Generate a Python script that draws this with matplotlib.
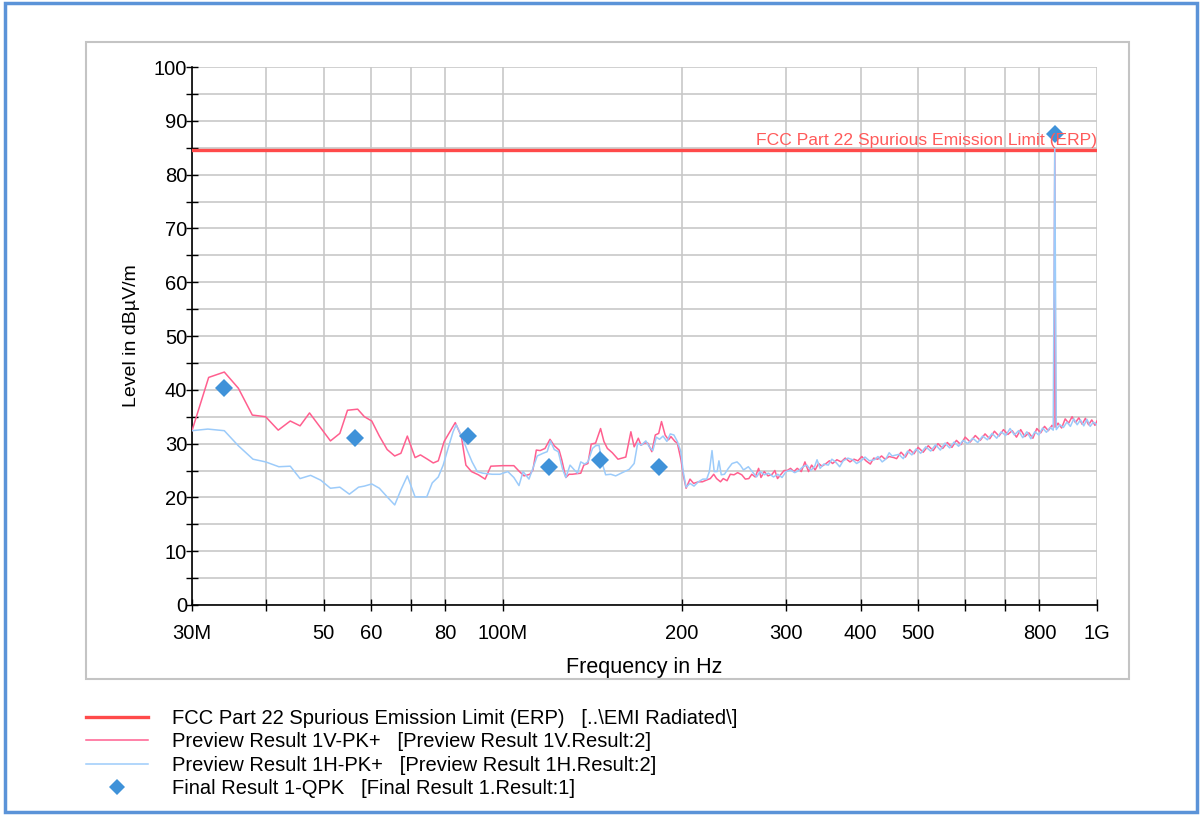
import matplotlib
matplotlib.use("Agg")
import matplotlib.pyplot as plt
from matplotlib.patches import Rectangle
from matplotlib.ticker import FixedLocator, FixedFormatter, NullFormatter

plt.rcParams['font.family'] = ['Liberation Sans', 'DejaVu Sans']

# limit line (dBuV/m)
limit_level = 84.5
limit_name = "FCC Part 22 Spurious Emission Limit (ERP)"

# Preview Result 1V-PK+ : frequency in MHz, level in dBuV/m
v_freq = [30, 32.0, 34.0, 35.9, 37.9, 39.9, 41.9, 43.9, 45.6, 47.3, 51.3, 53.2, 54.8, 57.0, 58.5,
          60.2, 62.0, 63.9, 65.8, 67.4, 69.1, 71.2, 72.7, 74.7, 76.4, 77.9, 79.7, 83.2, 85.2, 86.7,
          88.6, 91.0, 93.4, 95.5, 100, 104.4, 106.7, 108.6, 111.1, 112.4, 113.9, 115.6, 117.8, 120.1,
          122.1, 124.4, 125.7, 127.7, 129.3, 130.9, 135.3, 136.9, 139.1, 140.9, 143.3, 146.1, 148.0,
          150.0, 152.9, 156.3, 161.1, 164.3, 166.4, 169.1, 170.9, 173.1, 175.4, 178.2, 180.6, 183.0,
          185.0, 187.6, 190.1, 191.9, 194.9, 196.7, 199.5, 201.5, 203.5, 206.6, 209.5, 213.5, 216.8,
          220, 223.5, 226.5, 229, 232.5, 235, 238.5, 241.5, 245, 248.5, 252.5, 256, 259.5, 262.5, 266,
          269.5, 272, 275.5, 279.5, 284, 287, 290, 293.5, 297.5, 301, 305, 309, 313, 318, 322.5, 327,
          331, 335.5, 340, 344.5, 350, 354.5, 359, 365, 371, 377, 384, 390, 396, 402, 408.5, 415.5,
          421, 427.5, 434, 440, 447, 455, 460, 468, 476, 484, 492, 500, 510, 520, 530, 540, 550, 560,
          570, 580, 590, 600, 612, 624, 636, 648, 660, 672, 684, 696, 708, 720, 732, 744, 756, 768,
          780, 792, 804, 816, 828, 840, 846, 849, 852, 860, 872, 884, 896, 908, 920, 932, 944, 956,
          968, 980, 992, 1000]
v_level = [32.4, 42.3, 43.3, 40.3, 35.3, 35.0, 32.5, 34.2, 33.3, 35.7, 30.5, 31.9, 36.2, 36.4, 35.0,
           34.2, 31.4, 28.9, 27.7, 28.2, 31.4, 27.4, 27.9, 27.1, 26.4, 26.8, 30.4, 33.9, 31.3, 26.0,
           24.8, 24.2, 23.4, 25.8, 25.9, 25.9, 24.8, 24.0, 24.3, 25.1, 28.8, 28.7, 29.1, 30.8,
           29.6, 28.8, 27.0, 23.7, 24.3, 24.3, 24.5, 26.0, 26.3, 29.9, 30.1, 32.8, 30.4,
           29.1, 28.3, 27.1, 27.5, 32.2, 29.4, 31.0, 29.7, 30.1, 30.1, 28.5, 31.6, 31.9,
           34.1, 31.6, 30.7, 31.3, 30.4, 30.1, 27.0, 23.9, 21.7, 23.4, 22.6, 22.9, 22.9,
           23.2, 23.5, 24.3, 23.5, 22.9, 23.5, 23.1, 24.3, 24.2, 24.6, 24.2, 23.4, 23.5, 24.3, 23.8,
           25.4, 23.7, 24.8, 24.0, 24.3, 25.0, 23.5, 24.2, 25.0, 25.0, 25.4, 24.8, 25.4, 24.8, 26.6, 24.8,
           26.0, 25.1, 26.3, 25.8, 26.3, 26.8, 26.3, 27.0, 26.6, 27.3, 26.6, 27.1, 26.8, 27.6, 26.8, 26.2,
           27.3, 27.1, 27.7, 27.1, 27.6, 27.4, 27.2, 28.4, 27.5, 28.9, 28.1, 29.3, 28.4, 29.6, 28.7, 30.0, 29.1, 30.2,
           29.3, 30.6, 29.8, 31.2, 30.3, 31.5, 30.6, 31.8, 30.9, 32.3, 31.4, 32.6, 31.7, 32.4, 31.2, 32.6, 31.3, 32.0,
           31.0, 32.8, 32.0, 33.2, 32.4, 33.4, 33.0, 84.0, 33.1, 33.8, 32.9, 34.6, 33.8, 35.0, 33.9, 34.8, 33.6, 34.7,
           33.5, 34.4, 33.4, 34.2]

# Preview Result 1H-PK+
h_freq = [30, 31.9, 34.0, 35.9, 38.0, 39.9, 42.0, 43.9, 45.6, 47.5, 49.4, 51.3, 53.2, 55.2, 57.2,
          58.5, 60.2, 62.0, 63.9, 65.8, 67.4, 69.1, 71.2, 74.5, 76.1, 77.9, 79.4, 80.9, 82.5, 83.5,
          85.6, 87.1, 88.8, 90.6, 92.6, 96.0, 98.9, 102, 104.4, 106.5, 108.2, 110.7, 112.4, 114.3,
          116.9, 118.8, 120.3, 122.1, 124.0, 126.2, 127.7, 129.8, 132.0, 133.6, 135.3, 137.4, 139.1,
          141.6, 143.3, 145.2, 147.1, 149.0, 152.0, 154.9, 158.9, 163.2, 166.4, 168.7, 171, 174.1,
          176.5, 178.9, 181.3, 183.6, 186.1, 188.9, 191.4, 194.1, 196.7, 199.4, 201.2, 203.5, 206.6,
          209.8, 213.4, 217.2, 220.4, 222.7, 225, 226.9, 229.5, 231.1, 233.2, 236.1, 239.7, 243.2,
          247.9, 251, 254.2, 259, 263, 267.4, 271, 275.6, 280, 285.5, 290.3, 295.1, 299.8, 305, 310,
          315, 320, 325, 330, 335, 338, 342, 347, 353, 358, 363, 369, 374, 381, 388, 394, 401, 407,
          414, 422, 428, 435, 441, 447, 452, 464, 472, 480, 488, 496, 505, 515, 525, 535, 545, 555,
          565, 575, 585, 595, 606, 618, 630, 642, 654, 666, 678, 690, 702, 714, 726, 738, 750, 762,
          774, 786, 798, 810, 822, 834, 844, 849, 854, 866, 878, 890, 902, 914, 926, 938, 950, 962,
          974, 986, 1000]
h_level = [32.4, 32.7, 32.4, 29.6, 27.1, 26.6, 25.7, 25.8, 23.5, 24.1, 23.2, 21.7, 21.9, 20.6, 21.9,
           22.1, 22.5, 21.7, 20.1, 18.6, 21.4, 24.0, 20.1, 20.1, 22.7, 23.8, 26.0, 29.1, 32.2, 33.5,
           31.0, 28.8, 26.6, 24.8, 24.5, 24.3, 24.3, 24.8, 23.7, 22.2, 24.8, 23.4, 25.4, 27.7,
           28.2, 28.5, 30.5, 28.9, 28.5, 25.1, 23.7, 26.0, 25.1, 24.5, 26.6, 26.2, 26.6,
           29.1, 29.6, 29.7, 26.3, 24.2, 24.3, 24.0, 24.6, 25.2, 26.3, 30.1, 29.7, 30.5,
           29.4, 28.7, 31.2, 30.8, 31.4, 30.4, 31.8, 31.6, 30.4, 28.5, 24.8, 21.9, 22.6,
           22.1, 22.9, 23.4, 23.4, 24.8, 28.7, 24.8, 24.8, 26.8, 24.2, 24.3, 25.4, 26.3,
           26.6, 26.0, 25.1, 25.7, 24.8, 23.8, 24.8, 24.2, 24.5, 23.8, 24.3, 23.7, 24.8, 25.1, 24.6,
           25.0, 25.7, 26.0, 25.0, 25.8, 27.0, 25.4, 26.2, 26.0, 27.1, 26.6, 25.7, 26.8, 27.3, 27.0, 26.3, 26.8, 27.5,
           26.8, 27.0, 27.6, 26.6, 27.1, 28.3, 27.7, 28.0, 27.2, 28.6, 27.9, 29.0, 28.2, 29.4, 28.6, 29.8, 28.8, 30.1,
           29.2, 30.3, 29.5, 30.6, 30.0, 31.0, 30.2, 31.4, 30.7, 31.9, 31.0, 32.2, 31.5, 32.8, 31.6, 32.4, 31.1, 32.2,
           30.9, 32.2, 31.6, 32.9, 32.1, 33.0, 32.5, 85.0, 32.6, 33.5, 33.0, 34.0, 33.2, 34.6, 33.5, 34.4, 33.3, 34.5,
           33.2, 34.0, 33.5]

# Final Result 1-QPK
qpk_freq = [34.0, 56.4, 87.3, 119.7, 145.8, 183.0, 849.0]
qpk_level = [40.3, 31.0, 31.4, 25.7, 27.0, 25.7, 87.5]

legend_labels = [limit_name + "   [..\\EMI Radiated\\]",
                 "Preview Result 1V-PK+   [Preview Result 1V.Result:2]",
                 "Preview Result 1H-PK+   [Preview Result 1H.Result:2]",
                 "Final Result 1-QPK   [Final Result 1.Result:1]"]

x_ticks = [30, 40, 50, 60, 70, 80, 100, 200, 300, 400, 500, 600, 700, 800, 1000]
x_tick_labels = ["30M", "", "50", "60", "", "80", "100M", "200", "300", "400", "500", "", "", "800", "1G"]

W, H = 1203, 815
fig = plt.figure(figsize=(W / 100, H / 100), dpi=100)

# outer blue frame and grey inner box
fig.patches.append(Rectangle((5 / W, 3 / H), 1192 / W, 809 / H, transform=fig.transFigure,
                             fill=False, edgecolor='#5b93d8', lw=2.5))
fig.patches.append(Rectangle((86 / W, 1 - 679 / H), 1043 / W, 637 / H, transform=fig.transFigure,
                             fill=False, edgecolor='#c4c4c4', lw=1.5))

ax = fig.add_axes([192 / W, 1 - 605 / H, 905 / W, 538 / H])
ax.set_xscale('log')
ax.set_xlim(30e6, 1e9)
ax.set_ylim(0, 100)

fx = lambda lst: [f * 1e6 for f in lst]
l_lim = ax.axhline(limit_level, color='#ff4a4a', lw=2.4, zorder=3)
l_v, = ax.plot(fx(v_freq), v_level, color='#ff5f8f', lw=1.1, zorder=4)
l_h, = ax.plot(fx(h_freq), h_level, color='#9ccbfa', lw=1.1, zorder=4)
l_q, = ax.plot(fx(qpk_freq), qpk_level, 'D', color='#3f92d9', ms=9, mew=0, zorder=5)

ax.text(1e9, limit_level + 0.4, limit_name, color='#ff5a5a', fontsize=12.6,
        ha='right', va='bottom', zorder=6)

ax.xaxis.set_major_locator(FixedLocator([t * 1e6 for t in x_ticks]))
ax.xaxis.set_major_formatter(FixedFormatter(x_tick_labels))
ax.xaxis.set_minor_locator(FixedLocator([]))
ax.xaxis.set_minor_formatter(NullFormatter())
ax.set_yticks(range(0, 101, 10))
ax.set_yticks(range(5, 100, 10), minor=True)

ax.grid(True, which='both', color='#c8c8c8', lw=1.2)
ax.set_axisbelow(True)
ax.tick_params(which='both', direction='inout', length=9, width=1, colors='black',
               labelsize=14.5)
ax.tick_params(axis='y', pad=-1)
ax.tick_params(axis='x', pad=9)
for s in ['top', 'right']:
    ax.spines[s].set_visible(False)
for s in ['left', 'bottom']:
    ax.spines[s].set_linewidth(1.2)

ax.set_xlabel("Frequency in Hz", fontsize=15.5, labelpad=10)
ax.set_ylabel("Level in dBµV/m", fontsize=14, labelpad=10)

fig.legend([l_lim, l_v, l_h, l_q], legend_labels, loc='upper left',
           bbox_to_anchor=(86 / W, 1 - 709 / H), frameon=False, fontsize=14.5,
           handlelength=3.1, handletextpad=1.15, labelspacing=0.22, borderpad=0,
           borderaxespad=0, markerscale=0.9)

fig.savefig("out.png", dpi=100)
